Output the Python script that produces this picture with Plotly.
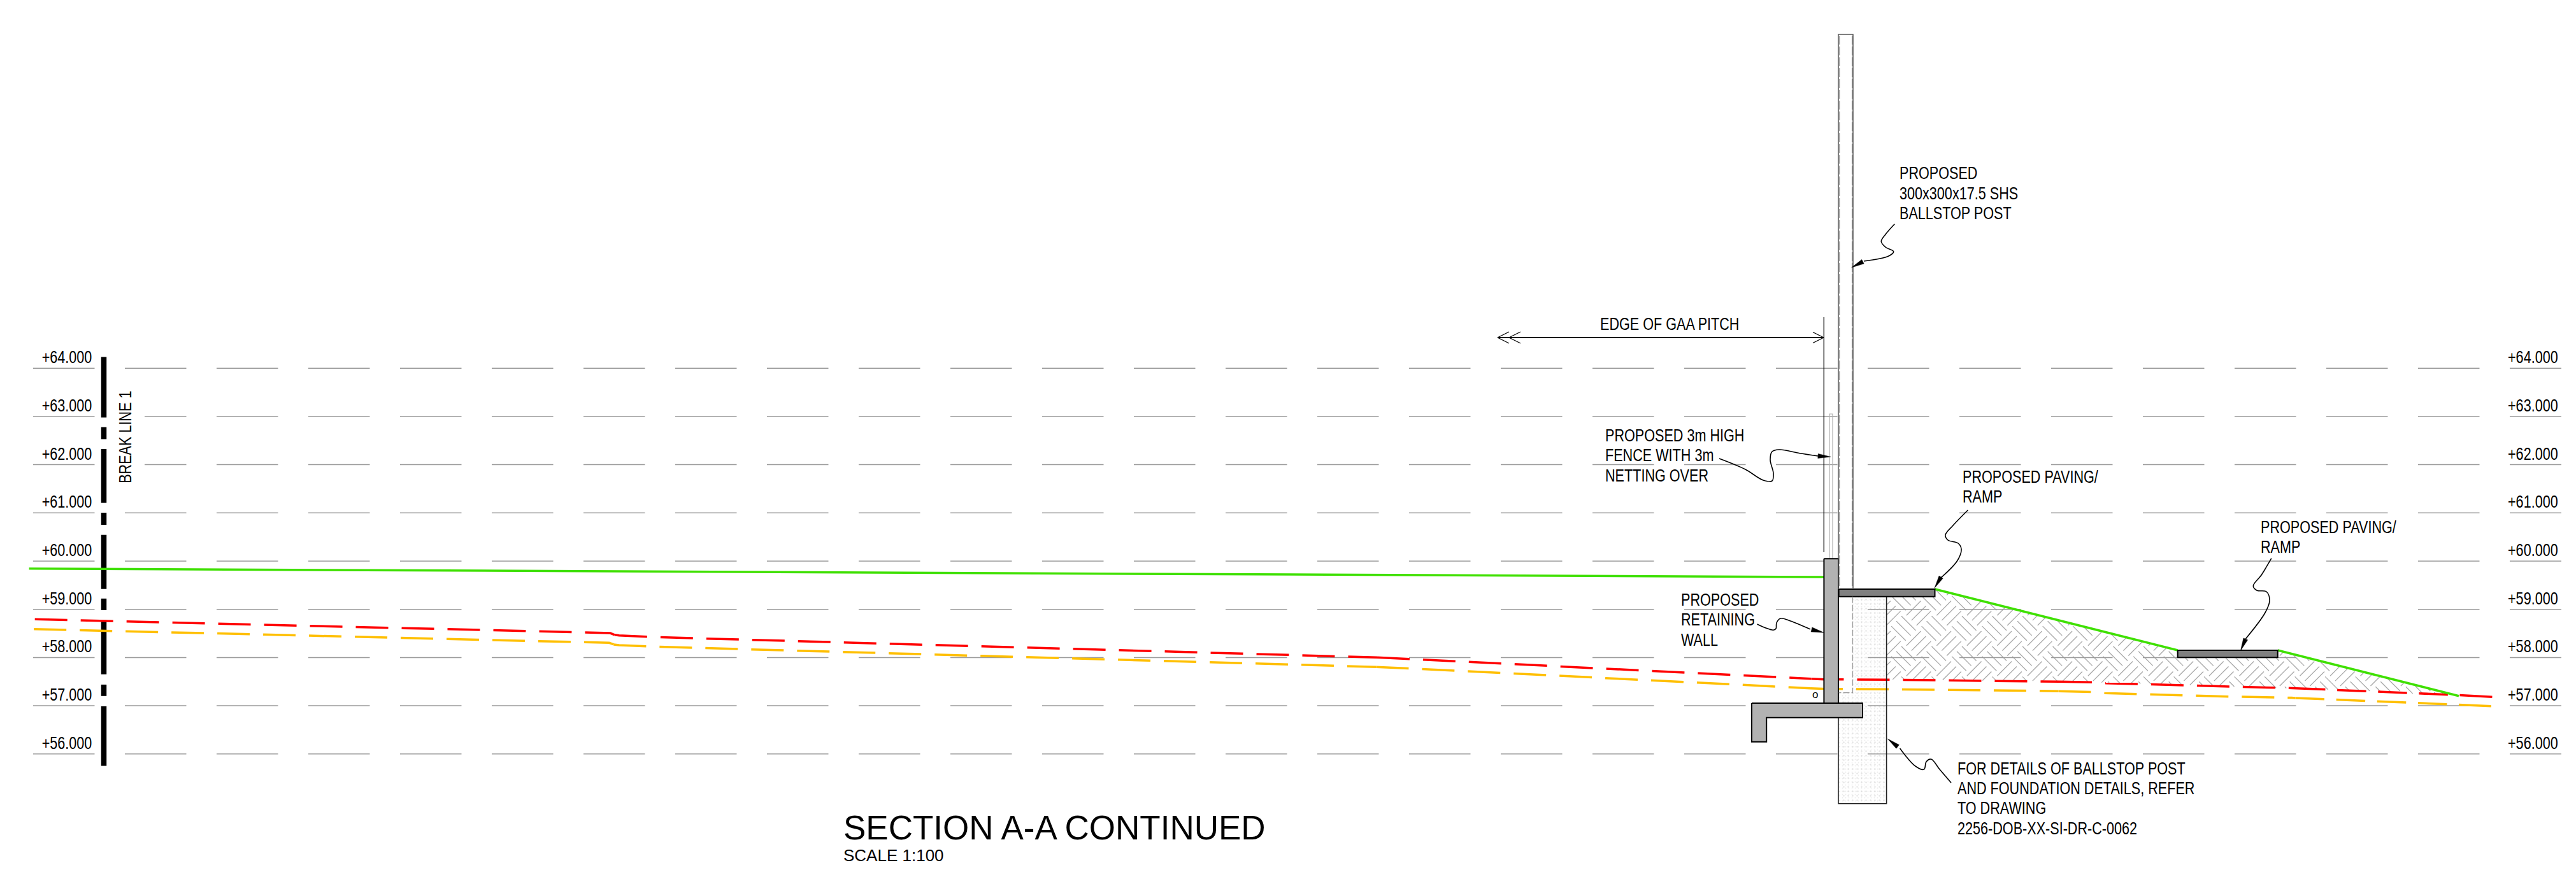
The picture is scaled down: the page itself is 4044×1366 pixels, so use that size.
import numpy as np
import plotly.graph_objects as go

# ---------- reference levels (m) ----------
levels = [64, 63, 62, 61, 60, 59, 58, 57, 56]

# ---------- ground profiles: x in drawing units, y in metres; None restarts the dash ----------
green_x = [45.6, 2863.4, None, 3037.5, 3418.7, None, 3575.7, 3860]
green_y = [59.845, 59.670, None, 59.419, 58.151, None, 58.151, 57.203]

red_x = [54.7, 958, 965, None, 965, 972, 1037, 1829, 1901.5, 2117, 2162, None,
         2162, 2213, 2665.7, 2843.5, None, 2843.5, 2864, 2966, 3182.6, 3233, None,
         3233, 3284, 3305.7, 3500, 3599, 3605, None, 3861.5, 3915.6]
red_y = [58.794, 58.507, 58.47, None, 58.47, 58.458, 58.420, 58.124, 58.098, 58.015, 58.002, None,
         58.002, 57.970, 57.675, 57.560, None, 57.560, 57.547, 57.539, 57.513, 57.500, None,
         57.500, 57.486, 57.468, 57.394, 57.367, 57.362, None, 57.220, 57.182]
red_tail_x = [3605, 3651, 3843, 3861.5]
red_tail_y = [57.362, 57.336, 57.230, 57.220]

orange_x = [53.2, 956.5, 963.5, None, 963.5, 972, 1035.5, 1827.5, 1900, 2115.5, 2160.5, None,
            2160.5, 2211.5, 2664.2, 2842, None, 2842, 2862.5, 2964.5, 3181.1, 3231.5, None,
            3231.5, 3282.5, 3304.2, 3498.5, 3597.5, 3603.5, None, 3860, 3914]
orange_y = [58.590, 58.305, 58.27, None, 58.27, 58.255, 58.222, 57.926, 57.903, 57.820, 57.805, None,
            57.805, 57.775, 57.480, 57.362, None, 57.362, 57.350, 57.342, 57.316, 57.303, None,
            57.303, 57.285, 57.262, 57.190, 57.165, 57.160, None, 57.022, 56.988]
orange_tail_x = [3603.5, 3649.5, 3841.5, 3860]
orange_tail_y = [57.160, 57.135, 57.032, 57.022]

# ---------- sheet geometry (x, y as measured on the sheet) ----------
wall_x = [2863.4, 2886, 2886, 2863.4]
wall_y = [877.3, 877.3, 1104, 1104]
base_x = [2750, 2924, 2924, 2773.2, 2773.2, 2750]
base_y = [1104, 1104, 1126.7, 1126.7, 1164.7, 1164.7]
paving1_x = [2886.6, 3037.5, 3037.5, 2886.6]
paving1_y = [925, 925, 936.7, 936.7]
paving2_x = [3418.7, 3575.7, 3575.7, 3418.7]
paving2_y = [1021, 1021, 1032.3, 1032.3]
stipple_x = [2908.5, 2961.6, 2961.6, 2886, 2886, 2908.5]
stipple_y = [936.7, 936.7, 1261.7, 1261.7, 1087.7, 1087.7]
found_x = [2961.6, 2961.6, 2886, 2886]
found_y = [936.7, 1261.7, 1261.7, 1126.7]
post_x = [2886, 2886, 2909, 2909]
post_y = [925, 54, 54, 925]
post_dash_left_x = [2887.7, 2887.7]
post_dash_right_x = [2907.7, 2907.7]
post_dash_y = [56, 925]
post_below_x = [2908.5, 2908.5, 2886.6]
post_below_y = [936.7, 1087.7, 1087.7]
fence_x = [2872, 2872, 2877, 2877]
fence_y = [877, 650, 650, 877]
pitch_x = [2863.3, 2863.3]
pitch_y = [498, 867]
dim_x = [2351, 2863]
dim_y = [530, 530]
barb_x = [2369, 2351, 2369, None, 2387, 2369, 2387, None, 2846, 2863, 2846]
barb_y = [521, 530, 539, None, 521, 530, 539, None, 521.5, 530, 538.5]

break_x = [163, 163]
break_runs = [(560.4, 655.5), (670.7, 689.5), (705, 789.6), (805, 824), (839.7, 924.7),
              (939.8, 958), (973.8, 1058.8), (1074.9, 1092.8), (1108.9, 1202.6)]

# leaders: wavy line points, last two are arrow base and tip
leaders = [
    ([2974.3, 2960, 2953.3, 2960, 2972.7, 2965, 2926, 2906.7],
     [351.7, 368, 379.3, 388, 395, 402, 410, 420]),
    ([2699, 2740, 2768, 2782, 2784, 2779, 2782, 2793, 2825.5, 2854, 2874],
     [720, 737, 754, 755, 743, 722, 709, 706, 711.7, 716, 717.3]),
    ([3089.3, 3066, 3054, 3058, 3074, 3079, 3073, 3046, 3037],
     [801, 825, 840, 848, 853, 862, 880, 908, 923.3]),
    ([2758.5, 2772, 2784, 2788, 2789, 2795, 2810.7, 2842, 2863.4],
     [980, 986, 989.3, 987, 978, 971, 975, 988, 993.3]),
    ([3063, 3045, 3031.7, 3024, 3020.5, 3007, 2982.6, 2963.4],
     [1229, 1208, 1192, 1196, 1208, 1203, 1175, 1160]),
    ([3565.8, 3550, 3537.3, 3543, 3558, 3563, 3556, 3525.4, 3517.4],
     [876.7, 903, 920, 927, 929, 943, 962, 1003, 1021.7]),
]

notes = [
    ("PROPOSED", 2982, 271.7), ("300x300x17.5 SHS", 2982, 303.7), ("BALLSTOP POST", 2982, 335.3),
    ("EDGE OF GAA PITCH", 2512, 509),
    ("PROPOSED 3m HIGH", 2520.4, 684), ("FENCE WITH 3m", 2520.4, 715), ("NETTING OVER", 2520.4, 746.7),
    ("PROPOSED PAVING/", 3080.6, 749.3), ("RAMP", 3080.6, 780),
    ("PROPOSED PAVING/", 3549, 827.7), ("RAMP", 3549, 859.3),
    ("PROPOSED", 2639, 941.7), ("RETAINING", 2639, 973.3), ("WALL", 2639, 1005),
    ("FOR DETAILS OF BALLSTOP POST", 3072.8, 1206.7), ("AND FOUNDATION DETAILS, REFER", 3072.8, 1237.7),
    ("TO DRAWING", 3072.8, 1269.3), ("2256-DOB-XX-SI-DR-C-0062", 3072.8, 1301),
]
title_text = "SECTION A-A CONTINUED"
scale_text = "SCALE 1:100"
break_label = "BREAK LINE 1"

NARROW = "Liberation Sans Narrow, Liberation Sans, Arial"
REG = "Liberation Sans, Arial"


def lv(py):
    """sheet y -> metres on the level axis"""
    if py is None:
        return None
    return 59 + (956.7 - py) / 75.7


def lvs(seq):
    return [lv(v) for v in seq]


def closed(seq):
    return list(seq) + [seq[0]]


fig = go.Figure()


def line(x, y, color="#000", width=1.5, dash=None, shape="linear", smoothing=None):
    ln = dict(color=color, width=width, shape=shape)
    if dash:
        ln["dash"] = dash
    if smoothing:
        ln["smoothing"] = smoothing
    fig.add_trace(go.Scatter(x=x, y=y, mode="lines", line=ln, hoverinfo="skip"))


def poly(x, y, fill, edge="#000", width=2):
    fig.add_trace(go.Scatter(x=closed(x), y=closed(y), mode="lines", fill="toself", fillcolor=fill,
                             line=dict(color=edge, width=width), hoverinfo="skip"))


# stipple of the concrete foundation
for size, fg in ((5, "#dadada"), (7, "#cacaca")):
    fig.add_trace(go.Scatter(x=closed(stipple_x), y=closed(lvs(stipple_y)), mode="none", fill="toself",
                             fillcolor="rgba(0,0,0,0)",
                             fillpattern=dict(shape=".", size=size, solidity=0.1, fgcolor=fg,
                                              bgcolor="rgba(255,255,255,0)"),
                             hoverinfo="skip"))

# basket-weave hatch of the fill, clipped between finished and existing ground
top_px = ([2961.6, 3037.5, 3037.5, 3418.7, 3418.7, 3575.7, 3575.7, 3860],
          [936.7, 936.7, 925, 1021, 1032.3, 1032.3, 1021, 1092.7])
bot_px = ([2961.6, 3182.6, 3284, 3500, 3651, 3860], [1067.3, 1069.3, 1071.3, 1078.3, 1082.7, 1092.7])
BLOCK = 33.6
CENTRE = np.array([3059.6, 1010.3])
HALF = 16.0
r = BLOCK / np.sqrt(2)
dn = np.array([1.0, 1.0]) / np.sqrt(2)    # "\" on the sheet
up = np.array([1.0, -1.0]) / np.sqrt(2)   # "/" on the sheet
hx, hy = [], []
for i in range(-60, 61):
    for j in range(-60, 61):
        c = CENTRE + i * np.array([r, r]) + j * np.array([r, -r])
        if not (2930 < c[0] < 3890 and 900 < c[1] < 1120):
            continue
        along, across = (up, dn) if (i + j) % 2 == 0 else (dn, up)
        for off in (-BLOCK / 3, 0.0, BLOCK / 3):
            a = c + across * off - along * HALF
            b = c + across * off + along * HALF
            ts = np.linspace(0, 1, 30)
            px = a[0] + (b[0] - a[0]) * ts
            py = a[1] + (b[1] - a[1]) * ts
            inside = (px >= 2961.6) & (px <= 3860) & (py >= np.interp(px, *top_px)) & (py <= np.interp(px, *bot_px))
            if inside.any():
                idx = np.where(inside)[0]
                hx += [px[idx[0]], px[idx[-1]], None]
                hy += [lv(py[idx[0]]), lv(py[idx[-1]]), None]
line(hx, hy, color="#a8a8a8", width=1.3)

# level lines
for lev in levels:
    line([52, 4021], [lev, lev], color="#9a9a9a", width=1.5, dash="96.5px,47.5px")
# wipe-out behind the break line label
fig.add_trace(go.Scatter(x=closed([195, 227, 227, 195]), y=closed(lvs([615, 615, 760, 760])), mode="none",
                         fill="toself", fillcolor="#fff", hoverinfo="skip"))

# break line
for a, b in break_runs:
    line(break_x, [lv(a), lv(b)], color="#000", width=8.5)

# ground lines
line(red_x, red_y, color="#ff0000", width=3.5, dash="51px,21px")
line(red_tail_x, red_tail_y, color="#ff0000", width=3.5, dash="45.5px,18.7px")
line(orange_x, orange_y, color="#ffbf00", width=3.5, dash="51px,21px")
line(orange_tail_x, orange_tail_y, color="#ffbf00", width=3.5, dash="45.5px,18.7px")
line(green_x, green_y, color="#3fe000", width=3.5)

# structure
line(found_x, lvs(found_y), color="#222", width=1.6)
line(fence_x, lvs(fence_y), color="#b0b0b0", width=1.2)
poly(wall_x, lvs(wall_y), "#b2b2b2")
poly(base_x, lvs(base_y), "#b2b2b2")
poly(paving1_x, lvs(paving1_y), "#808080")
poly(paving2_x, lvs(paving2_y), "#808080")
line(post_x, lvs(post_y), color="#555", width=1.5)
line(post_dash_left_x, lvs(post_dash_y), color="#999", width=1.3, dash="14px,3px")
line(post_dash_right_x, lvs(post_dash_y), color="#777", width=1.3, dash="14px,3px")
line(post_below_x, lvs(post_below_y), color="#999", width=1.3, dash="10px,3px")
line(pitch_x, lvs(pitch_y), color="#000", width=1.3)
line(dim_x, lvs(dim_y), color="#000", width=2)
line(barb_x, lvs(barb_y), color="#000", width=1.3)

# leaders and arrow heads
for lx, ly in leaders:
    line(lx[:-1], lvs(ly[:-1]), color="#000", width=1.6, shape="spline", smoothing=1.0)
    tip = np.array([lx[-1], ly[-1]])
    bs = np.array([lx[-2], ly[-2]])
    d = bs - tip
    d = d / np.hypot(*d)
    n = np.array([-d[1], d[0]])
    root = tip + d * 20
    p1 = root + n * 3.6
    p2 = root - n * 3.6
    poly([tip[0], p1[0], p2[0]], lvs([tip[1], p1[1], p2[1]]), "#000", width=0.5)

anns = []


def text(s, x, y, size=27, family=NARROW, xa="left", ya="middle", angle=0):
    anns.append(dict(text=s, x=x, y=y, xref="x", yref="y", xanchor=xa, yanchor=ya, showarrow=False,
                     textangle=angle, borderpad=0, borderwidth=0,
                     font=dict(family=family, size=size, color="#000")))


for lev in levels:
    lab = f"+{lev}.000"
    text(lab, 144, lev + 17 / 75.7, xa="right")
    text(lab, 3937, lev + 17 / 75.7, xa="left")
for s, x, y in notes:
    text(s, x, lv(y))
text(break_label, 197, lv(686), angle=-90, xa="center")
text(title_text, 1324, lv(1299), size=53, family=REG)
text(scale_text, 1324, lv(1342.5), size=26, family=REG)
text("o", 2849.6, lv(1090), size=17, family=REG, xa="center")

fig.update_layout(
    width=4044, height=1366, autosize=False,
    margin=dict(l=0, r=0, t=0, b=0, pad=0),
    paper_bgcolor="#fff", plot_bgcolor="#fff", showlegend=False,
    xaxis=dict(visible=False, range=[0, 4044], fixedrange=True),
    yaxis=dict(visible=False, range=[lv(1366), lv(0)], fixedrange=True),
    annotations=anns,
)

# The drawing lettering is an Arial-like face at 80 % width: condense those labels in place.
CONDENSE = """
document.body.style.margin='0';document.body.style.overflow='hidden';
document.querySelectorAll('.annotation-text').forEach(function(t){
  if((t.style.fontFamily||'').indexOf('Narrow')<0){return;}
  var s=t.textContent, w=t.getComputedTextLength(), k=0.80;
  t.setAttribute('textLength',w*k);
  t.setAttribute('lengthAdjust','spacingAndGlyphs');
  if(s.indexOf('BREAK')===0){return;}
  var x=parseFloat(t.getAttribute('x'));
  var shift=(w-w*k)/2;
  var rightAligned=(s.charAt(0)==='+' && t.getBoundingClientRect().left<500);
  t.setAttribute('x',x+(rightAligned?shift:-shift));
});
"""
fig.write_html("out.html", post_script=CONDENSE, config={"displayModeBar": False})
